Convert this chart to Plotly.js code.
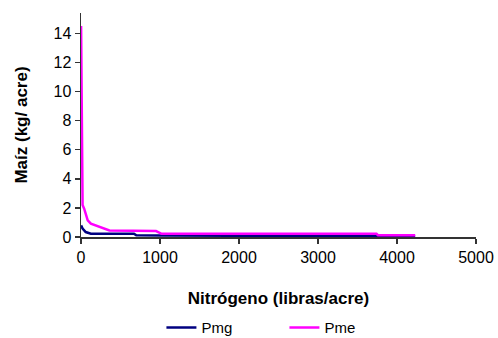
<!DOCTYPE html>
<html>
<head>
<meta charset="utf-8">
<script src="https://cdn.plot.ly/plotly-3.0.1.min.js"></script>
<style>html,body{margin:0;padding:0;background:#fff;}#chart{width:498px;height:338px;}</style>
</head>
<body>
<div id="chart"></div>
<script>
// Nitrógeno (libras/acre)
var pmeX = [1, 5, 10, 20, 40, 60, 85, 125, 190, 250, 360, 950, 1020, 3740, 3760, 4230];
var pmeY = [14.5, 11, 10.1, 2.2, 1.95, 1.6, 1.15, 0.92, 0.8, 0.69, 0.45, 0.41, 0.22, 0.22, 0.12, 0.12];
var pmgX = [1, 20, 60, 125, 670, 700, 1000, 4230];
var pmgY = [0.8, 0.58, 0.34, 0.23, 0.23, 0.12, 0.1, 0.05];
var seriesNames = ["Pmg", "Pme"];
var xTicks = [0, 1000, 2000, 3000, 4000, 5000];
var yTicks = [0, 2, 4, 6, 8, 10, 12, 14];

var FONT = "Liberation Sans, Arial, sans-serif";
var traces = [
  {x: pmgX, y: pmgY, name: seriesNames[0], type: "scatter", mode: "lines",
   line: {color: "#000080", width: 2.5}},
  {x: pmeX, y: pmeY, name: seriesNames[1], type: "scatter", mode: "lines",
   line: {color: "#FF00FF", width: 2.5}}
];
var layout = {
  width: 498, height: 338,
  margin: {l: 81, r: 22, t: 13, b: 101, pad: 0, autoexpand: false},
  paper_bgcolor: "#fff", plot_bgcolor: "#fff",
  font: {family: FONT, color: "#000", size: 16},
  showlegend: true,
  legend: {orientation: "h", x: 0.515, xanchor: "center", y: -0.405, yanchor: "middle",
           font: {family: FONT, size: 15, color: "#000"}, entrywidth: 78, bgcolor: "rgba(0,0,0,0)"},
  xaxis: {
    range: [0, 5000], tickvals: xTicks, ticktext: xTicks.map(String), automargin: false,
    ticks: "outside", ticklen: 5, tickwidth: 1.5, tickcolor: "#333",
    showline: true, linecolor: "#333", linewidth: 1.5,
    showgrid: false, zeroline: false,
    tickfont: {family: FONT, size: 16, color: "#000"},
    title: {text: "Nitrógeno (libras/acre)", standoff: 27,
            font: {family: FONT, size: 17, color: "#000", weight: "bold"}}
  },
  yaxis: {
    range: [0, 15.4], tickvals: yTicks, ticktext: yTicks.map(String), automargin: false,
    ticks: "outside", ticklen: 5, tickwidth: 1.5, tickcolor: "#333",
    showline: true, linecolor: "#333", linewidth: 1.5,
    showgrid: false, zeroline: false,
    tickfont: {family: FONT, size: 16, color: "#000"},
    title: {text: "Maíz (kg/ acre)", standoff: 21,
            font: {family: FONT, size: 17, color: "#000", weight: "bold"}}
  }
};
Plotly.newPlot("chart", traces, layout, {displayModeBar: false, staticPlot: true});
</script>
</body>
</html>
